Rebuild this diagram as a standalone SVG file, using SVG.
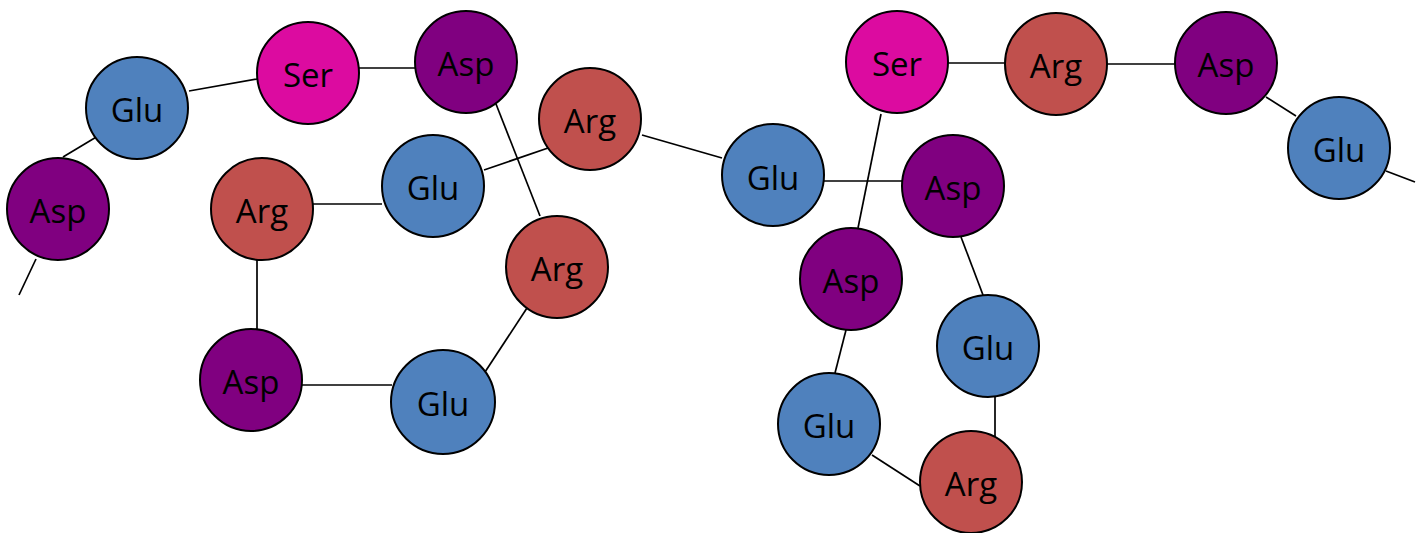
<svg xmlns="http://www.w3.org/2000/svg" width="1418" height="533" viewBox="0 0 1418 533">
<style>
.n circle{stroke:#000;stroke-width:2}
.glu{fill:#4F81BD}.asp{fill:#800080}.arg{fill:#C0504D}.ser{fill:#DC0BA0}
.n text{font-family:"Open Sans","Noto Sans",sans-serif;font-size:33px;fill:#000;text-anchor:middle}
#edges line{stroke:#000;stroke-width:1.7}
</style>
<rect width="1418" height="533" fill="#fff"/>
<g id="edges">
<line x1="36" y1="259" x2="19" y2="295"/>
<line x1="63" y1="157" x2="98" y2="136"/>
<line x1="189" y1="91" x2="257" y2="79"/>
<line x1="359" y1="68" x2="415" y2="68"/>
<line x1="496" y1="104" x2="540" y2="216"/>
<line x1="484" y1="170" x2="551" y2="147"/>
<line x1="313" y1="204" x2="382" y2="204"/>
<line x1="257" y1="260" x2="257" y2="330"/>
<line x1="302" y1="385" x2="392" y2="385"/>
<line x1="485" y1="372" x2="527" y2="308"/>
<line x1="642" y1="135" x2="722" y2="158"/>
<line x1="824" y1="181" x2="902" y2="181"/>
<line x1="881" y1="114" x2="858" y2="228"/>
<line x1="948" y1="63" x2="1005" y2="63"/>
<line x1="1107" y1="64" x2="1175" y2="64"/>
<line x1="1266" y1="97" x2="1296" y2="116"/>
<line x1="1386" y1="171" x2="1415" y2="182"/>
<line x1="961" y1="237" x2="983" y2="295"/>
<line x1="995" y1="397" x2="995" y2="437"/>
<line x1="846" y1="330" x2="835" y2="373"/>
<line x1="872" y1="455" x2="920" y2="486"/>
</g>
<g id="n1" class="n"><circle class="glu" cx="137" cy="108" r="51"/><text x="137" y="122">Glu</text></g>
<g id="n2" class="n"><circle class="ser" cx="308" cy="73" r="51"/><text x="308" y="87">Ser</text></g>
<g id="n3" class="n"><circle class="asp" cx="466" cy="62" r="51"/><text x="466" y="76">Asp</text></g>
<g id="n4" class="n"><circle class="asp" cx="58" cy="209" r="51"/><text x="58" y="223">Asp</text></g>
<g id="n5" class="n"><circle class="arg" cx="590" cy="119" r="51"/><text x="590" y="133">Arg</text></g>
<g id="n6" class="n"><circle class="glu" cx="433" cy="186" r="51"/><text x="433" y="200">Glu</text></g>
<g id="n7" class="n"><circle class="arg" cx="262" cy="209" r="51"/><text x="262" y="223">Arg</text></g>
<g id="n8" class="n"><circle class="arg" cx="557" cy="267" r="51"/><text x="557" y="281">Arg</text></g>
<g id="n9" class="n"><circle class="asp" cx="251" cy="380" r="51"/><text x="251" y="394">Asp</text></g>
<g id="n10" class="n"><circle class="glu" cx="443" cy="402" r="52"/><text x="443" y="416">Glu</text></g>
<g id="n11" class="n"><circle class="glu" cx="773" cy="175" r="51"/><text x="773" y="190">Glu</text></g>
<g id="n12" class="n"><circle class="ser" cx="897" cy="62" r="51"/><text x="897" y="76">Ser</text></g>
<g id="n13" class="n"><circle class="arg" cx="1056" cy="64" r="51"/><text x="1056" y="78">Arg</text></g>
<g id="n14" class="n"><circle class="asp" cx="1226" cy="63" r="51"/><text x="1226" y="77">Asp</text></g>
<g id="n15" class="n"><circle class="glu" cx="1339" cy="148" r="51"/><text x="1339" y="162">Glu</text></g>
<g id="n16" class="n"><circle class="asp" cx="953" cy="186" r="51"/><text x="953" y="200">Asp</text></g>
<g id="n17" class="n"><circle class="asp" cx="851" cy="279" r="51"/><text x="851" y="293">Asp</text></g>
<g id="n18" class="n"><circle class="glu" cx="988" cy="346" r="51"/><text x="988" y="360">Glu</text></g>
<g id="n19" class="n"><circle class="glu" cx="829" cy="424" r="51"/><text x="829" y="438">Glu</text></g>
<g id="n20" class="n"><circle class="arg" cx="971" cy="482" r="51"/><text x="971" y="496">Arg</text></g>
</svg>
